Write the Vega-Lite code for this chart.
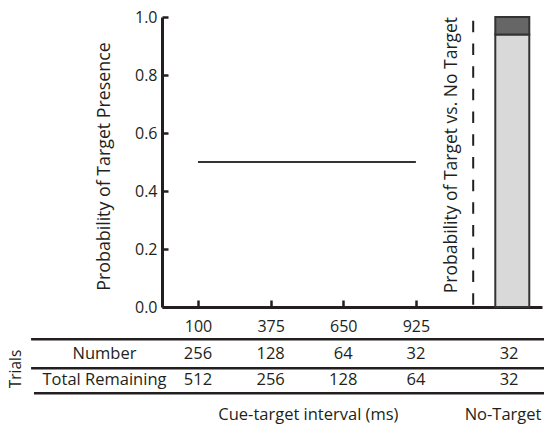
{
  "$schema": "https://vega.github.io/schema/vega-lite/v6.json",
  "width": 380,
  "height": 290,
  "autosize": {"type": "none"},
  "padding": {"left": 162, "top": 17, "right": 2, "bottom": 119},
  "background": "white",
  "config": {
    "view": {"stroke": null},
    "font": "Open Sans",
    "text": {"font": "Open Sans", "fontSize": 16.5, "color": "#231f20", "baseline": "middle", "align": "center"},
    "axis": {"labelFont": "Open Sans", "titleFont": "Open Sans", "domainColor": "#231f20", "tickColor": "#231f20", "labelColor": "#231f20", "titleColor": "#231f20", "grid": false}
  },
  "datasets": {
    "intervals": [
      {"interval": 100, "probability": 0.5, "number": 256, "remaining": 512},
      {"interval": 375, "probability": 0.5, "number": 128, "remaining": 256},
      {"interval": 650, "probability": 0.5, "number": 64, "remaining": 128},
      {"interval": 925, "probability": 0.5, "number": 32, "remaining": 64}
    ],
    "noTargetBar": [
      {"outcome": "Target", "probability": 0.94},
      {"outcome": "No Target", "probability": 0.06}
    ],
    "noTargetTrials": [{"number": 32, "remaining": 32}]
  },
  "layer": [
    {
      "data": {"name": "intervals"},
      "mark": {"type": "line", "color": "#333333", "strokeWidth": 1.8},
      "encoding": {
        "x": {"field": "interval", "type": "quantitative",
          "scale": {"domain": [-36.3, 1402.5], "nice": false, "zero": false, "padding": 0},
          "axis": {"values": [100, 375, 650, 925], "title": null, "domainWidth": 3, "tickSize": -7, "tickWidth": 2.5, "labelPadding": 18, "labelFontSize": 16, "labelFlush": false, "labelOverlap": false}},
        "y": {"field": "probability", "type": "quantitative",
          "scale": {"domain": [0, 1], "nice": false, "zero": false, "padding": 0},
          "axis": {"values": [0, 0.2, 0.4, 0.6, 0.8, 1], "format": ".1f", "title": "Probability of Target Presence", "domainWidth": 3, "tickSize": -6, "tickWidth": 2.5, "labelPadding": 11, "labelFontSize": 16, "labelFlush": false, "titleFontSize": 17.8, "titleFontWeight": "normal", "titlePadding": 21, "titleY": 149}}
      }
    },
    {
      "data": {"name": "noTargetBar"},
      "mark": {"type": "bar", "size": 34, "stroke": "#333333", "strokeWidth": 2},
      "encoding": {
        "x": {"datum": 1290, "type": "quantitative"},
        "y": {"field": "probability", "type": "quantitative", "stack": "zero"},
        "order": {"field": "outcome", "sort": "descending"},
        "color": {"field": "outcome", "type": "nominal", "scale": {"domain": ["Target", "No Target"], "range": ["#d9d9d9", "#666666"]}, "legend": null}
      }
    },
    {
      "data": {"values": [{}]},
      "mark": {"type": "rule", "color": "#231f20", "strokeWidth": 2, "strokeDash": [11.5, 11.2]},
      "encoding": {
        "x": {"datum": 1142, "type": "quantitative"},
        "y": {"datum": 0.987, "type": "quantitative"},
        "y2": {"datum": 0}
      }
    },
    {
      "data": {"values": [{}]},
      "mark": {"type": "text", "angle": 270, "fontSize": 17.5, "text": "Probability of Target vs. No Target"},
      "encoding": {
        "x": {"datum": 1062, "type": "quantitative"},
        "y": {"datum": 0.524, "type": "quantitative"}
      }
    },
    {
      "data": {"values": [{}]},
      "mark": {"type": "rule", "color": "#231f20", "strokeWidth": 2.5},
      "encoding": {
        "x": {"datum": -532, "type": "quantitative"},
        "x2": {"datum": 1420},
        "y": {"datum": -0.1114, "type": "quantitative"}
      }
    },
    {
      "data": {"values": [{}]},
      "mark": {"type": "rule", "color": "#231f20", "strokeWidth": 2.5},
      "encoding": {
        "x": {"datum": -532, "type": "quantitative"},
        "x2": {"datum": 1420},
        "y": {"datum": -0.2114, "type": "quantitative"}
      }
    },
    {
      "data": {"values": [{}]},
      "mark": {"type": "rule", "color": "#231f20", "strokeWidth": 2.5},
      "encoding": {
        "x": {"datum": -521, "type": "quantitative"},
        "x2": {"datum": 1420},
        "y": {"datum": -0.2976, "type": "quantitative"}
      }
    },
    {
      "data": {"name": "intervals"},
      "mark": {"type": "text"},
      "encoding": {
        "x": {"field": "interval", "type": "quantitative"},
        "y": {"datum": -0.162, "type": "quantitative"},
        "text": {"field": "number", "type": "quantitative"}
      }
    },
    {
      "data": {"name": "intervals"},
      "mark": {"type": "text"},
      "encoding": {
        "x": {"field": "interval", "type": "quantitative"},
        "y": {"datum": -0.2517, "type": "quantitative"},
        "text": {"field": "remaining", "type": "quantitative"}
      }
    },
    {
      "data": {"name": "noTargetTrials"},
      "mark": {"type": "text"},
      "encoding": {
        "x": {"datum": 1278, "type": "quantitative"},
        "y": {"datum": -0.162, "type": "quantitative"},
        "text": {"field": "number", "type": "quantitative"}
      }
    },
    {
      "data": {"name": "noTargetTrials"},
      "mark": {"type": "text"},
      "encoding": {
        "x": {"datum": 1278, "type": "quantitative"},
        "y": {"datum": -0.2517, "type": "quantitative"},
        "text": {"field": "remaining", "type": "quantitative"}
      }
    },
    {
      "data": {"values": [{}]},
      "mark": {"type": "text", "text": "Number"},
      "encoding": {
        "x": {"datum": -254, "type": "quantitative"},
        "y": {"datum": -0.162, "type": "quantitative"}
      }
    },
    {
      "data": {"values": [{}]},
      "mark": {"type": "text", "text": "Total Remaining"},
      "encoding": {
        "x": {"datum": -254, "type": "quantitative"},
        "y": {"datum": -0.2517, "type": "quantitative"}
      }
    },
    {
      "data": {"values": [{}]},
      "mark": {"type": "text", "text": "Trials", "angle": 270, "fontSize": 15.5},
      "encoding": {
        "x": {"datum": -589, "type": "quantitative"},
        "y": {"datum": -0.2138, "type": "quantitative"}
      }
    },
    {
      "data": {"values": [{}]},
      "mark": {"type": "text", "text": "Cue-target interval (ms)"},
      "encoding": {
        "x": {"datum": 518, "type": "quantitative"},
        "y": {"datum": -0.3724, "type": "quantitative"}
      }
    },
    {
      "data": {"values": [{}]},
      "mark": {"type": "text", "text": "No-Target"},
      "encoding": {
        "x": {"datum": 1255, "type": "quantitative"},
        "y": {"datum": -0.3724, "type": "quantitative"}
      }
    }
  ]
}
